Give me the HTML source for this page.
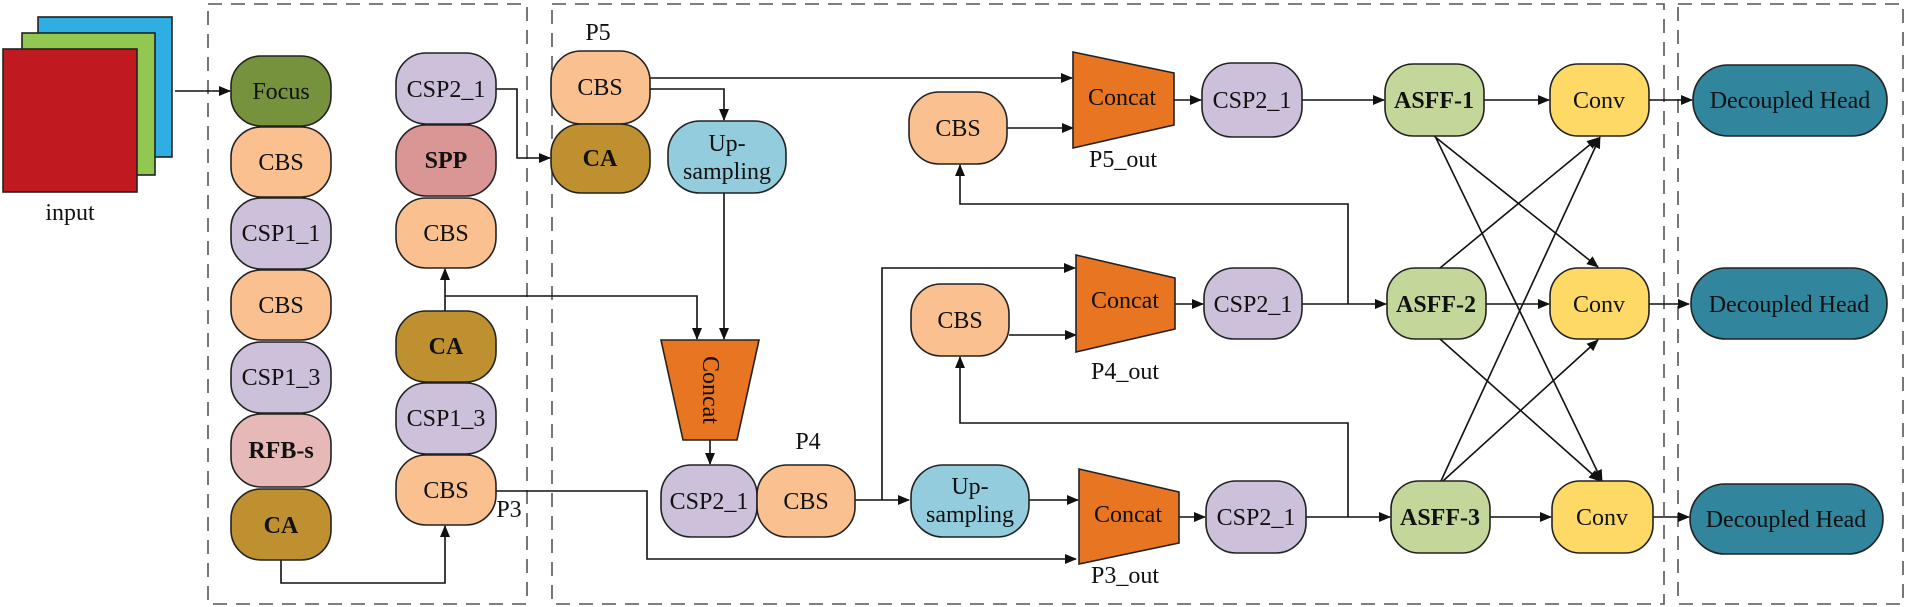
<!DOCTYPE html>
<html><head><meta charset="utf-8"><style>
html,body{margin:0;padding:0;background:#fff;}
svg{display:block;}
text{font-family:"Liberation Serif",serif;font-size:24px;fill:#111;}
.b{font-weight:bold;}
.n{stroke:#222;stroke-width:1.6;}
.l{stroke:#111;stroke-width:1.6;fill:none;}
.d{stroke:#555;stroke-width:1.6;fill:none;stroke-dasharray:14,9;}
</style></head><body>
<svg width="1905" height="607" viewBox="0 0 1905 607" xmlns="http://www.w3.org/2000/svg">
<defs>
<marker id="a" markerWidth="12" markerHeight="10" refX="11" refY="5" orient="auto" markerUnits="userSpaceOnUse">
<path d="M0,0 L12,5 L0,10 z" fill="#111"/></marker>
</defs>
<!-- dashed boxes -->
<rect class="d" x="208" y="4" width="319" height="600"/>
<rect class="d" x="552" y="4" width="1112" height="600"/>
<rect class="d" x="1678" y="4" width="225" height="600"/>

<!-- input -->
<rect x="38" y="17" width="134" height="140" fill="#2eaee3" class="n"/>
<rect x="22" y="33" width="133" height="142" fill="#92c851" class="n"/>
<rect x="3" y="49" width="134" height="143" fill="#c0191f" class="n"/>
<text x="70" y="220" text-anchor="middle">input</text>

<!-- lines -->
<path class="l" d="M175,91 H230" marker-end="url(#a)"/>
<path class="l" d="M281,560 V583 H445 V526" marker-end="url(#a)"/>
<path class="l" d="M445,311 V269" marker-end="url(#a)"/>
<path class="l" d="M445,296 H697 V339" marker-end="url(#a)"/>
<path class="l" d="M496,89 H517 V158 H550" marker-end="url(#a)"/>
<path class="l" d="M650,78 H1072" marker-end="url(#a)"/>
<path class="l" d="M650,89 H724 V120" marker-end="url(#a)"/>
<path class="l" d="M724,193 V339" marker-end="url(#a)"/>
<path class="l" d="M710,440 V464" marker-end="url(#a)"/>
<path class="l" d="M496,491 H647 V559 H1076" marker-end="url(#a)"/>
<path class="l" d="M855,500 H909" marker-end="url(#a)"/>
<path class="l" d="M882,500 V268 H1075" marker-end="url(#a)"/>
<path class="l" d="M1029,500 H1078" marker-end="url(#a)"/>
<path class="l" d="M1007,128 H1073" marker-end="url(#a)"/>
<path class="l" d="M1009,335 H1076" marker-end="url(#a)"/>
<path class="l" d="M1174,100 H1201" marker-end="url(#a)"/>
<path class="l" d="M1175,304 H1203" marker-end="url(#a)"/>
<path class="l" d="M1179,517 H1205" marker-end="url(#a)"/>
<path class="l" d="M1302,100 H1384" marker-end="url(#a)"/>
<path class="l" d="M1302,304 H1386" marker-end="url(#a)"/>
<path class="l" d="M1306,517 H1390" marker-end="url(#a)"/>
<path class="l" d="M1348,304 V204 H960 V165" marker-end="url(#a)"/>
<path class="l" d="M1348,517 V423 H960 V357" marker-end="url(#a)"/>
<path class="l" d="M1484,100 H1549" marker-end="url(#a)"/>
<path class="l" d="M1486,304 H1549" marker-end="url(#a)"/>
<path class="l" d="M1490,517 H1551" marker-end="url(#a)"/>
<path class="l" d="M1649,100 H1692" marker-end="url(#a)"/>
<path class="l" d="M1649,304 H1689" marker-end="url(#a)"/>
<path class="l" d="M1653,517 H1689" marker-end="url(#a)"/>
<!-- cross -->
<path class="l" d="M1434,136 L1598,267" marker-end="url(#a)"/>
<path class="l" d="M1436,138 L1602,481" marker-end="url(#a)"/>
<path class="l" d="M1440,268 L1598,138" marker-end="url(#a)"/>
<path class="l" d="M1440,339 L1600,481" marker-end="url(#a)"/>
<path class="l" d="M1441,481 L1600,137" marker-end="url(#a)"/>
<path class="l" d="M1443,481 L1598,340" marker-end="url(#a)"/>

<!-- left column -->
<rect class="n" x="231" y="56" width="100" height="70" rx="30" fill="#76923c"/>
<text x="281" y="99" text-anchor="middle">Focus</text>
<rect class="n" x="231" y="127" width="100" height="70" rx="30" fill="#fac090"/>
<text x="281" y="170" text-anchor="middle">CBS</text>
<rect class="n" x="231" y="198" width="100" height="71" rx="30" fill="#ccc0da"/>
<text x="281" y="241" text-anchor="middle">CSP1_1</text>
<rect class="n" x="231" y="270" width="100" height="70" rx="30" fill="#fac090"/>
<text x="281" y="313" text-anchor="middle">CBS</text>
<rect class="n" x="231" y="342" width="100" height="71" rx="30" fill="#ccc0da"/>
<text x="281" y="385" text-anchor="middle">CSP1_3</text>
<rect class="n" x="231" y="414" width="100" height="73" rx="30" fill="#e6b9b8"/>
<text x="281" y="458" text-anchor="middle" class="b">RFB-s</text>
<rect class="n" x="231" y="489" width="100" height="71" rx="30" fill="#bf9030"/>
<text x="281" y="533" text-anchor="middle" class="b">CA</text>

<!-- right column -->
<rect class="n" x="396" y="53" width="100" height="71" rx="30" fill="#ccc0da"/>
<text x="446" y="97" text-anchor="middle">CSP2_1</text>
<rect class="n" x="396" y="125" width="100" height="71" rx="30" fill="#da9694"/>
<text x="446" y="168" text-anchor="middle" class="b">SPP</text>
<rect class="n" x="396" y="198" width="100" height="70" rx="30" fill="#fac090"/>
<text x="446" y="241" text-anchor="middle">CBS</text>
<rect class="n" x="396" y="311" width="100" height="71" rx="30" fill="#bf9030"/>
<text x="446" y="354" text-anchor="middle" class="b">CA</text>
<rect class="n" x="396" y="383" width="100" height="71" rx="30" fill="#ccc0da"/>
<text x="446" y="426" text-anchor="middle">CSP1_3</text>
<rect class="n" x="396" y="455" width="100" height="70" rx="30" fill="#fac090"/>
<text x="446" y="498" text-anchor="middle">CBS</text>
<text x="509" y="517" text-anchor="middle">P3</text>

<!-- P5 -->
<text x="598" y="40" text-anchor="middle">P5</text>
<rect class="n" x="551" y="51" width="99" height="73" rx="30" fill="#fac090"/>
<text x="600" y="95" text-anchor="middle">CBS</text>
<rect class="n" x="551" y="124" width="99" height="69" rx="30" fill="#bf9030"/>
<text x="600" y="166" text-anchor="middle" class="b">CA</text>

<rect class="n" x="668" y="121" width="118" height="72" rx="32" fill="#93cddd"/>
<text x="727" y="151" text-anchor="middle">Up-</text>
<text x="727" y="179" text-anchor="middle">sampling</text>

<!-- vertical concat -->
<polygon class="n" points="661,340 759,340 737,440 683,440" fill="#e87522"/>
<text transform="translate(703,390) rotate(90)" text-anchor="middle" y="0">Concat</text>

<rect class="n" x="661" y="465" width="96" height="72" rx="30" fill="#ccc0da"/>
<text x="709" y="509" text-anchor="middle">CSP2_1</text>
<rect class="n" x="757" y="465" width="98" height="72" rx="30" fill="#fac090"/>
<text x="806" y="509" text-anchor="middle">CBS</text>
<text x="808" y="449" text-anchor="middle">P4</text>

<rect class="n" x="911" y="465" width="118" height="72" rx="32" fill="#93cddd"/>
<text x="970" y="494" text-anchor="middle">Up-</text>
<text x="970" y="522" text-anchor="middle">sampling</text>

<!-- CBS blocks -->
<rect class="n" x="909" y="92" width="98" height="72" rx="30" fill="#fac090"/>
<text x="958" y="136" text-anchor="middle">CBS</text>
<rect class="n" x="911" y="284" width="98" height="72" rx="30" fill="#fac090"/>
<text x="960" y="328" text-anchor="middle">CBS</text>

<!-- concats -->
<polygon class="n" points="1073,52 1174,73 1174,125 1073,148" fill="#e87522"/>
<text x="1122" y="105" text-anchor="middle">Concat</text>
<text x="1123" y="167" text-anchor="middle">P5_out</text>
<polygon class="n" points="1076,255 1175,278 1175,329 1076,352" fill="#e87522"/>
<text x="1125" y="308" text-anchor="middle">Concat</text>
<text x="1125" y="379" text-anchor="middle">P4_out</text>
<polygon class="n" points="1079,469 1179,492 1179,543 1079,564" fill="#e87522"/>
<text x="1128" y="522" text-anchor="middle">Concat</text>
<text x="1125" y="583" text-anchor="middle">P3_out</text>

<rect class="n" x="1202" y="63" width="100" height="74" rx="30" fill="#ccc0da"/>
<text x="1252" y="108" text-anchor="middle">CSP2_1</text>
<rect class="n" x="1204" y="268" width="98" height="71" rx="30" fill="#ccc0da"/>
<text x="1253" y="312" text-anchor="middle">CSP2_1</text>
<rect class="n" x="1206" y="481" width="100" height="72" rx="30" fill="#ccc0da"/>
<text x="1256" y="525" text-anchor="middle">CSP2_1</text>

<!-- ASFF -->
<rect class="n" x="1385" y="64" width="99" height="72" rx="28" fill="#c4d79b"/>
<text x="1434" y="108" text-anchor="middle" class="b">ASFF-1</text>
<rect class="n" x="1387" y="268" width="99" height="71" rx="28" fill="#c4d79b"/>
<text x="1436" y="312" text-anchor="middle" class="b">ASFF-2</text>
<rect class="n" x="1391" y="481" width="99" height="72" rx="28" fill="#c4d79b"/>
<text x="1440" y="525" text-anchor="middle" class="b">ASFF-3</text>

<!-- Conv -->
<rect class="n" x="1550" y="64" width="99" height="72" rx="28" fill="#ffd966"/>
<text x="1599" y="108" text-anchor="middle">Conv</text>
<rect class="n" x="1550" y="268" width="99" height="71" rx="28" fill="#ffd966"/>
<text x="1599" y="312" text-anchor="middle">Conv</text>
<rect class="n" x="1552" y="481" width="101" height="72" rx="28" fill="#ffd966"/>
<text x="1602" y="525" text-anchor="middle">Conv</text>

<!-- Decoupled heads -->
<rect class="n" x="1693" y="65" width="194" height="71" rx="35" fill="#31859c"/>
<text x="1790" y="108" text-anchor="middle">Decoupled Head</text>
<rect class="n" x="1691" y="268" width="196" height="71" rx="35" fill="#31859c"/>
<text x="1789" y="312" text-anchor="middle">Decoupled Head</text>
<rect class="n" x="1690" y="484" width="193" height="70" rx="35" fill="#31859c"/>
<text x="1786" y="527" text-anchor="middle">Decoupled Head</text>
</svg>
</body></html>
